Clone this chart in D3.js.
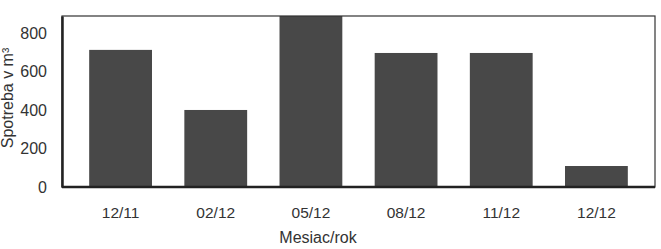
<!DOCTYPE html>
<html>
<head>
<meta charset="utf-8">
<script src="https://cdn.jsdelivr.net/npm/d3@7"></script>
<style>
  body { margin: 0; background: #fff; }
  text { font-family: "Liberation Sans", Arial, sans-serif; fill: #333; }
</style>
</head>
<body>
<svg id="chart" width="661" height="249"></svg>
<script>
const months = ["12/11", "02/12", "05/12", "08/12", "11/12", "12/12"];
const usage = [712, 400, 890, 696, 696, 109];
const yTicks = [0, 200, 400, 600, 800];

const svg = d3.select("#chart");
const plot = { left: 62, right: 655, top: 16, bottom: 187 };

const x = d3.scaleBand()
  .domain(months)
  .range([73, 644])
  .paddingInner(0.34)
  .paddingOuter(0.17);

const y = d3.scaleLinear().domain([0, 888]).range([plot.bottom, plot.top]);

svg.append("clipPath").attr("id", "clip")
  .append("rect")
  .attr("x", plot.left).attr("y", plot.top)
  .attr("width", plot.right - plot.left).attr("height", plot.bottom - plot.top);

svg.append("g")
  .attr("clip-path", "url(#clip)")
  .selectAll("rect")
  .data(months)
  .join("rect")
  .attr("x", (d) => x(d))
  .attr("width", x.bandwidth())
  .attr("y", (d, i) => y(usage[i]))
  .attr("height", (d, i) => y(0) - y(usage[i]))
  .attr("fill", "#484848");

// frame
svg.append("rect")
  .attr("x", plot.left).attr("y", plot.top)
  .attr("width", plot.right - plot.left).attr("height", plot.bottom - plot.top)
  .attr("fill", "none").attr("stroke", "#333").attr("stroke-width", 1.2);

// y axis
const yAxis = svg.append("g")
  .attr("transform", `translate(${plot.left},0)`)
  .call(d3.axisLeft(y).tickValues(yTicks).tickSize(0).tickPadding(15))
  .call((g) => g.select(".domain").attr("stroke", "#222").attr("stroke-width", 2.5));
yAxis.selectAll("text").style("font-size", "16px").attr("fill", "#333");

// x axis
const xAxis = svg.append("g")
  .attr("transform", `translate(0,${plot.bottom})`)
  .call(d3.axisBottom(x).tickSize(0).tickPadding(20))
  .call((g) => g.select(".domain").attr("d", `M${plot.left},0H${plot.right}`)
    .attr("stroke", "#222").attr("stroke-width", 2.5));
xAxis.selectAll("text").style("font-size", "15.5px").attr("fill", "#333");

svg.append("text")
  .attr("x", 318)
  .attr("y", 243)
  .attr("text-anchor", "middle")
  .style("font-size", "16px")
  .text("Mesiac/rok");

svg.append("text")
  .attr("transform", "translate(13,98) rotate(-90)")
  .attr("text-anchor", "middle")
  .style("font-size", "16px")
  .text("Spotreba v m³");
</script>
</body>
</html>
